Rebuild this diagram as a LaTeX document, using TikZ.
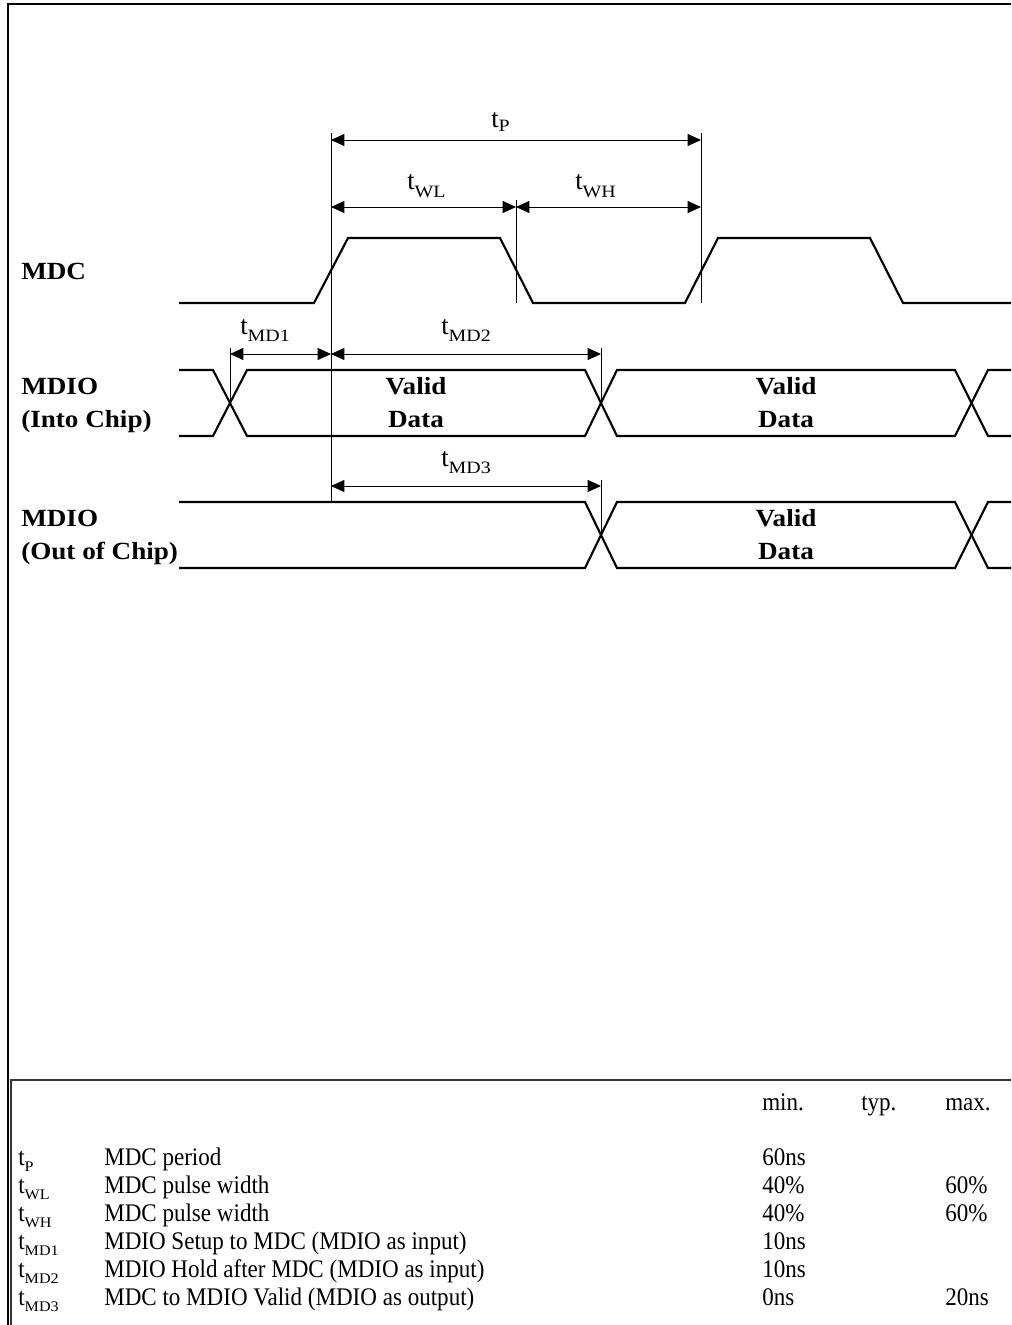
\documentclass[tikz,border=0pt]{standalone}
\usepackage{fontspec}
\setmainfont{Liberation Serif}
\newfontfamily\sigfont{Liberation Serif}[FakeStretch=1.1]
\newfontfamily\subfont{Liberation Serif}[FakeStretch=1.15]
\newfontfamily\tabfont{Liberation Serif}[FakeStretch=0.91]
\newfontfamily\tabsubfont{Liberation Serif}[FakeStretch=1.1]
\usetikzlibrary{arrows.meta, positioning}

\newcommand\tdlbl[2][-5.5pt]{{\fontsize{20}{22}\selectfont t}\raisebox{#1}{\subfont\fontsize{13}{14}\selectfont #2}}
\newcommand\tblsym[1]{t\raisebox{-5pt}{\tabsubfont\fontsize{11}{12}\selectfont #1}}

\begin{document}
\begin{tikzpicture}[x=0.75pt, y=-0.75pt]
  \newcommand\mdclo{303}
  \newcommand\mdchi{238}
  \newcommand\inhi{370}
  \newcommand\inlo{436}
  \newcommand\outhi{502}
  \newcommand\outlo{568}
  \newcommand\rowgap{28}

  \tikzset{wave/.style={line width=1.6pt}}
  \tikzset{refline/.style={line width=0.6pt}}
  \tikzset{dim/.style={<->, >={Triangle[length=10pt, width=9pt]}, line width=0.6pt}}
  \tikzset{sig/.style={font=\sigfont\bfseries\fontsize{18.5}{20}\selectfont, anchor=base west, inner sep=0pt}}
  \tikzset{datalbl/.style={sig, anchor=base}}
  \tikzset{dimlbl/.style={anchor=base west, inner sep=0pt}}
  \tikzset{tabtxt/.style={font=\tabfont\fontsize{19}{22}\selectfont, anchor=base west, inner sep=0pt}}

  \useasboundingbox (0,0) rectangle (1011,1325);
  \draw[line width=1.6pt] (7.8,1325) -- (7.8,4) -- (1011,4);

  % MDC
  \draw[wave] (179,\mdclo) -- (314,\mdclo) -- (348,\mdchi) -- (500,\mdchi) -- (533,\mdclo)
    -- (685,\mdclo) -- (718,\mdchi) -- (870,\mdchi) -- (903,\mdclo) -- (1011,\mdclo);

  % MDIO into chip
  \draw[wave] (179,\inhi) -- (213,\inhi) -- (247,\inlo) -- (585,\inlo) -- (617,\inhi)
    -- (955,\inhi) -- (988,\inlo) -- (1011,\inlo);
  \draw[wave] (179,\inlo) -- (213,\inlo) -- (247,\inhi) -- (585,\inhi) -- (617,\inlo)
    -- (955,\inlo) -- (988,\inhi) -- (1011,\inhi);

  % MDIO out of chip
  \draw[wave] (179,\outhi) -- (585,\outhi) -- (617,\outlo) -- (955,\outlo) -- (988,\outhi) -- (1011,\outhi);
  \draw[wave] (179,\outlo) -- (585,\outlo) -- (617,\outhi) -- (955,\outhi) -- (988,\outlo) -- (1011,\outlo);

  % reference lines
  \draw[refline] (331,133) -- (331,\outhi);
  \draw[refline] (516,200) -- (516,\mdclo);
  \draw[refline] (701,133) -- (701,\mdclo);
  \draw[refline] (230,348) -- (230,403);
  \draw[refline] (601,348) -- (601,403);
  \draw[refline] (601,480) -- (601,535);

  % timing arrows
  \foreach \name/\sub/\xa/\xb/\y/\lx/\ly/\drop in {tp/P/331/701/140/491/127/-3pt,
      twl/WL/331/516/207/407/189/-6pt, twh/WH/516/701/207/575/189/-6pt,
      tmd1/MD1/230/331/354/240/334/-5.5pt, tmd2/MD2/331/601/354/441/334/-5.5pt,
      tmd3/MD3/331/601/486/441/466/-5.5pt}{
    \coordinate (\name-a) at (\xa,\y);
    \coordinate (\name-b) at (\xb,\y);
    \draw[dim] (\name-a) -- (\name-b);
    \node[dimlbl] (lbl-\name) at (\lx,\ly) {\tdlbl[\drop]{\sub}};
  }

  % signal names
  \node[sig] (sig-mdc) at (21,279) {MDC};
  \node[sig] (sig-in) at (21,394) {MDIO};
  \node[sig] (sig-in2) at (21,427) {(Into Chip)};
  \node[sig] (sig-out) at (21,526) {MDIO};
  \node[sig] (sig-out2) at (21,559) {(Out of Chip)};

  \foreach \name/\x/\y in {in1/416/394, in2/786/394, out1/786/526}{
    \node[datalbl] (\name-v) at (\x,\y) {Valid};
    \node[datalbl] (\name-d) at (\x,\y+33) {Data};
  }

  % timing table
  \draw[line width=1.1pt, black!80] (11,1325) -- (11,1080) -- (1011,1080);
  \node[tabtxt] (tab-hmin) at (762,1110) {min.};
  \node[tabtxt] (tab-htyp) at (861,1110) {typ.};
  \node[tabtxt] (tab-hmax) at (945,1110) {max.};
  \foreach \sub/\desc/\vmin [count=\r from 1] in {P/MDC period/60ns,
      WL/MDC pulse width/40\%, WH/MDC pulse width/40\%,
      MD1/MDIO Setup to MDC (MDIO as input)/10ns,
      MD2/MDIO Hold after MDC (MDIO as input)/10ns,
      MD3/MDC to MDIO Valid (MDIO as output)/0ns}{
    \node[tabtxt] (tab-t\r) at (18,1137+\rowgap*\r) {\tblsym{\sub}};
    \node[tabtxt] (tab-d\r) at (104,1137+\rowgap*\r) {\desc};
    \node[tabtxt] (tab-min\r) at (762,1137+\rowgap*\r) {\vmin};
  }
  \foreach \r/\vmax in {2/60\%, 3/60\%, 6/20ns}{
    \node[tabtxt] (tab-max\r) at (945,1137+\rowgap*\r) {\vmax};
  }
\end{tikzpicture}
\end{document}
